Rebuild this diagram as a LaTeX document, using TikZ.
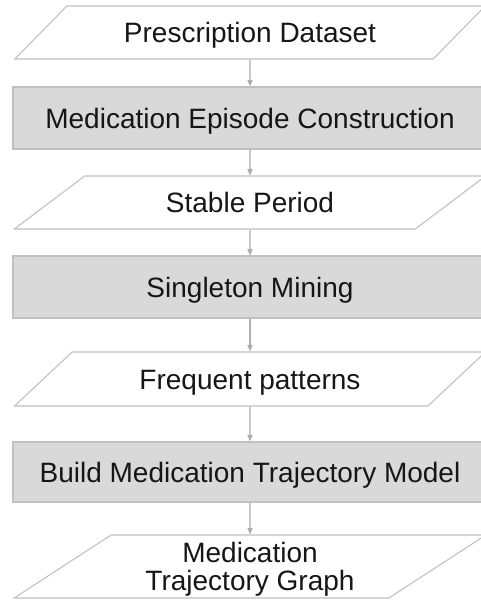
\documentclass[tikz,border=0pt]{standalone}
\usepackage{fontspec}
\setmainfont{Liberation Sans}
\usepackage{xcolor}
\usetikzlibrary{arrows.meta,shapes.geometric}
\definecolor{edg}{HTML}{C0C0C0}
\definecolor{fil}{HTML}{D9D9D9}
\definecolor{txt}{HTML}{161616}
\tikzset{
  lbl/.style={font=\fontsize{21}{21}\selectfont,text=txt,align=center,inner sep=0pt,text height=15pt,text depth=0pt},
  dat/.style={lbl,draw=edg,line width=0.8pt,fill=white,trapezium,trapezium stretches=true,
    trapezium left angle=29.2,trapezium right angle=150.8,minimum width=354pt,minimum height=39.75pt},
  prc/.style={lbl,draw=edg,line width=0.8pt,fill=fil,rectangle,minimum width=355.5pt,minimum height=46.5pt},
  flw/.style={draw=edg!90!black,line width=0.8pt,-{Triangle[length=5pt,width=4pt]}}
}

\begin{document}
\begin{tikzpicture}[x=0.75pt,y=-0.75pt]
\useasboundingbox (0,0) rectangle (480,603);
\node[dat] (pres) at (250,32.5) {Prescription Dataset};
\node[prc] (epis) at (250,118) {Medication Episode Construction};
\node[dat] (stab) at (250,202.5) {Stable Period};
\node[prc] (sing) at (250,287) {Singleton Mining};
\node[dat,minimum height=40.5pt] (freq) at (250,379) {Frequent patterns};
\node[prc,minimum height=45pt] (build) at (250,472) {Build Medication Trajectory Model};
\node[dat,minimum height=47.25pt,trapezium left angle=33.5,trapezium right angle=146.5,text height=] (graph) at (250,566.5) {Medication\\Trajectory Graph};
\draw[flw] (pres) -- (epis);
\draw[flw] (epis) -- (stab);
\draw[flw] (stab) -- (sing);
\draw[flw] (sing) -- (freq);
\draw[flw] (freq) -- (build);
\draw[flw] (build) -- (graph);
\end{tikzpicture}
\end{document}
